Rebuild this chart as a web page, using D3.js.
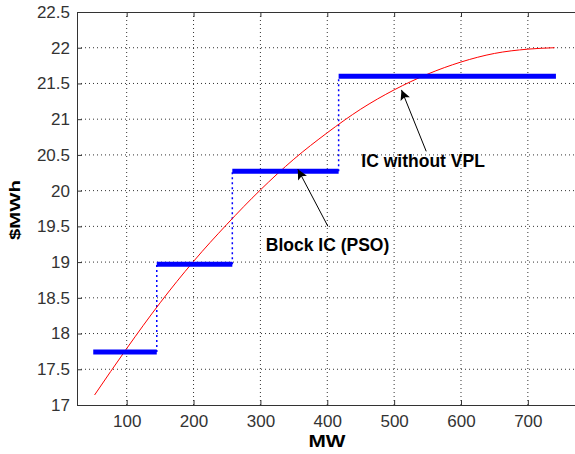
<!DOCTYPE html>
<html>
<head>
<meta charset="utf-8">
<script src="https://cdn.jsdelivr.net/npm/d3@7"></script>
<style>
  body { margin: 0; background: #fff; }
  svg { display: block; font-family: "Liberation Sans", Arial, sans-serif; }
</style>
</head>
<body>
<div id="chart"></div>
<script>
// step edges (MW) and block price levels ($/MWh)
const stepEdges = [50, 145, 258, 417, 742];
const stepPrices = [17.74, 18.97, 20.27, 21.60];

// smooth incremental cost curve
const curveMW = [52, 100, 150, 200, 250, 300, 350, 400, 450, 500, 550, 600, 650, 700, 740];
const curvePrice = [17.14, 17.79, 18.43, 19.01, 19.53, 20.01, 20.44, 20.81, 21.14, 21.41, 21.63, 21.80, 21.92, 21.98, 22.00];

const xTicks = [100, 200, 300, 400, 500, 600, 700];
const yTicks = [17, 17.5, 18, 18.5, 19, 19.5, 20, 20.5, 21, 21.5, 22, 22.5];

// annotations: label, text anchor point, arrow start, arrow tip (data units)
const noteLabels = ["Block IC (PSO)", "IC without VPL"];
const noteTextAt = [[308, 19.16], [451, 20.33]];
const noteFrom = [[401, 19.50], [548, 20.55]];
const noteTo = [[356, 20.30], [511, 21.41]];

const width = 575, height = 454;
const margin = {left: 77, top: 12, right: -3, bottom: 49};
const pw = width - margin.left - margin.right;
const ph = height - margin.top - margin.bottom;

const x = d3.scaleLinear().domain([25.7, 775]).range([margin.left, margin.left + pw]);
const y = d3.scaleLinear().domain([17, 22.5]).range([margin.top + ph, margin.top]);

const svg = d3.select("#chart").append("svg")
    .attr("width", width)
    .attr("height", height);

svg.append("rect").attr("width", width).attr("height", height).attr("fill", "#fff");

const defs = svg.append("defs");
defs.append("marker")
    .attr("id", "head")
    .attr("viewBox", "0 0 10 10")
    .attr("refX", 10).attr("refY", 5)
    .attr("markerWidth", 14).attr("markerHeight", 10)
    .attr("markerUnits", "userSpaceOnUse")
    .attr("orient", "auto")
  .append("path")
    .attr("d", "M0,0 L10,5 L0,10 L2,5 Z")
    .attr("fill", "#000");

// grid
const grid = svg.append("g");
xTicks.forEach(t => {
  grid.append("line")
      .attr("x1", x(t)).attr("x2", x(t))
      .attr("y1", y(22.5)).attr("y2", y(17))
      .attr("stroke", "#333").attr("stroke-dasharray", "1,3");
});
yTicks.filter(t => t > 17 && t < 22.5).forEach(t => {
  grid.append("line")
      .attr("x1", x.range()[0]).attr("x2", x.range()[1])
      .attr("y1", y(t)).attr("y2", y(t))
      .attr("stroke", "#333").attr("stroke-dasharray", "1,3");
});

// axes (MATLAB style, ticks inward)
const bottomAxis = d3.axisBottom(x).tickValues(xTicks).tickSizeInner(-5).tickSizeOuter(0).tickPadding(10);
const topAxis = d3.axisTop(x).tickValues(xTicks).tickSizeInner(-5).tickSizeOuter(0).tickFormat("");
const leftAxis = d3.axisLeft(y).tickValues(yTicks).tickSizeInner(-5).tickSizeOuter(0).tickPadding(7)
    .tickFormat(d => d3.format("")(d));

function styleAxis(g) {
  g.select(".domain").attr("stroke", "#333");
  g.selectAll(".tick line").attr("stroke", "#333");
  g.selectAll(".tick text").attr("fill", "#333").attr("font-size", 17)
      .attr("font-family", "'Liberation Sans', Arial, sans-serif");
}

svg.append("g").attr("transform", `translate(0,${y(17)})`).call(bottomAxis).call(styleAxis);
svg.append("g").attr("transform", `translate(0,${y(22.5)})`).call(topAxis).call(styleAxis);
svg.append("g").attr("transform", `translate(${x.range()[0]},0)`).call(leftAxis).call(styleAxis);

// block step risers (dotted blue)
for (let i = 1; i < stepPrices.length; i++) {
  svg.append("line")
      .attr("x1", x(stepEdges[i])).attr("x2", x(stepEdges[i]))
      .attr("y1", y(stepPrices[i - 1])).attr("y2", y(stepPrices[i]))
      .attr("stroke", "#0000ff").attr("stroke-width", 1.5)
      .attr("stroke-dasharray", "2,3");
}

// cost curve
svg.append("path")
    .datum(curveMW.map((m, i) => [m, curvePrice[i]]))
    .attr("fill", "none")
    .attr("stroke", "#ff0000")
    .attr("stroke-width", 1)
    .attr("d", d3.line().x(d => x(d[0])).y(d => y(d[1])).curve(d3.curveMonotoneX));

// block bars
stepPrices.forEach((p, i) => {
  svg.append("line")
      .attr("x1", x(stepEdges[i])).attr("x2", x(stepEdges[i + 1]))
      .attr("y1", y(p)).attr("y2", y(p))
      .attr("stroke", "#0000ff").attr("stroke-width", 5);
});

// annotations
noteLabels.forEach((label, i) => {
  svg.append("line")
      .attr("x1", x(noteFrom[i][0])).attr("y1", y(noteFrom[i][1]))
      .attr("x2", x(noteTo[i][0])).attr("y2", y(noteTo[i][1]))
      .attr("stroke", "#000").attr("stroke-width", 1)
      .attr("marker-end", "url(#head)");
  svg.append("text")
      .attr("x", x(noteTextAt[i][0])).attr("y", y(noteTextAt[i][1]))
      .attr("font-size", 17.5).attr("font-weight", "bold").attr("fill", "#000")
      .text(label);
});

// axis labels
svg.append("text")
    .attr("x", 327).attr("y", 447)
    .attr("text-anchor", "middle")
    .attr("font-size", 17).attr("font-weight", "bold")
    .attr("textLength", 37).attr("lengthAdjust", "spacingAndGlyphs")
    .text("MW");

svg.append("text")
    .attr("transform", "translate(20,210) rotate(-90)")
    .attr("text-anchor", "middle")
    .attr("font-size", 15).attr("font-weight", "bold")
    .attr("textLength", 60).attr("lengthAdjust", "spacingAndGlyphs")
    .text("$MWh");
</script>
</body>
</html>
